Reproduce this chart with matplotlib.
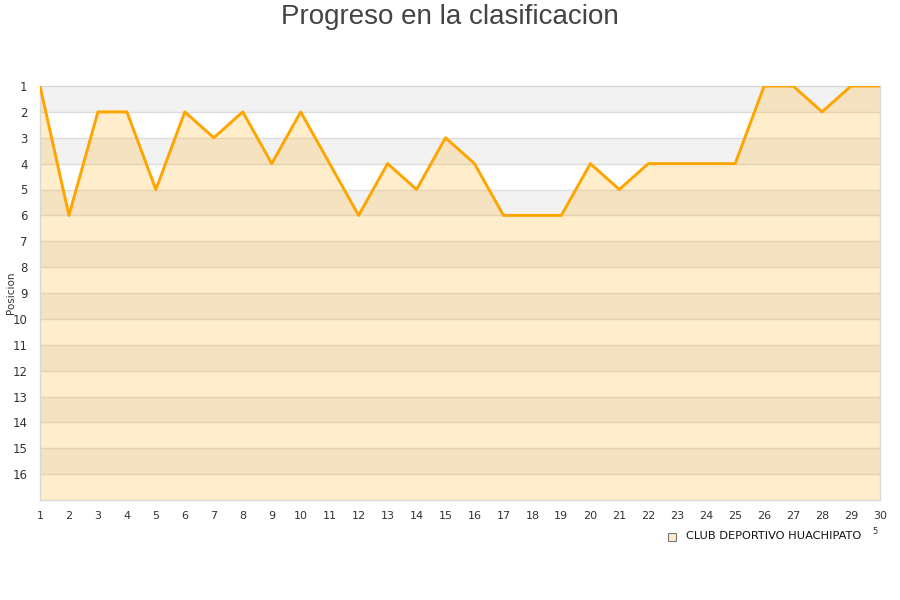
import matplotlib
matplotlib.use("Agg")
import matplotlib.pyplot as plt
import numpy as np

jornadas = list(range(1, 31))
posiciones = [1, 6, 2, 2, 5, 2, 3, 2, 4, 2, 4, 6, 4, 5, 3, 4, 6, 6, 6, 4,
              5, 4, 4, 4, 4, 1, 1, 2, 1, 1]
y_ticks = list(range(1, 17))
equipo = "CLUB DEPORTIVO HUACHIPATO"
titulo = "Progreso en la clasificacion"

fig = plt.figure(figsize=(9, 6), dpi=100)
ax = fig.add_axes([40/900, 1-500/600, 840/900, 414/600])

# alternating background bands
for k in range(1, 17):
    ax.axhspan(k, k+1, color="#F2F2F2" if k % 2 == 1 else "#FFFFFF", lw=0, zorder=0)
for k in range(2, 17):
    ax.axhline(k, color="#DDDDDD", lw=1, zorder=1)

ax.fill_between(jornadas, posiciones, 17, color=(1.0, 0.647, 0.0), alpha=0.2, lw=0, zorder=2)
ax.plot(jornadas, posiciones, color="#FFA500", lw=2.1, zorder=3)

ax.set_xlim(1, 30)
ax.set_ylim(17, 1)
ax.set_xticks(jornadas)
ax.set_xticklabels([str(j) for j in jornadas], fontsize=8, color="#333333")
ax.set_yticks(y_ticks)
ax.set_yticklabels([str(v) for v in y_ticks], fontsize=8.5, color="#333333")
ax.tick_params(length=0, pad=8)
ax.tick_params(axis="y", pad=9)
for s in ax.spines.values():
    s.set_color("#D8D8D8")
    s.set_linewidth(1)

fig.text(11/900, 1-293/600, "Posicion", rotation=90, ha="center", va="center",
         fontsize=7.5, color="#333333")

fig.text(0.5, 1-17/600, titulo, ha="center", va="center", fontsize=20,
         family="Liberation Sans", color="#444444")

# legend
fig.patches.append(plt.Rectangle((668/900, 1-541/600), 8/900, 8/600, transform=fig.transFigure,
                                 facecolor="#FFEBCC", edgecolor="#777777", lw=0.8))
fig.text(686/900, 1-536/600, equipo, ha="left", va="center", fontsize=8.2, color="#111111")
fig.text(875/900, 1-531/600, "5", ha="center", va="center", fontsize=6, color="#333333")

fig.savefig("out.png", dpi=100)
